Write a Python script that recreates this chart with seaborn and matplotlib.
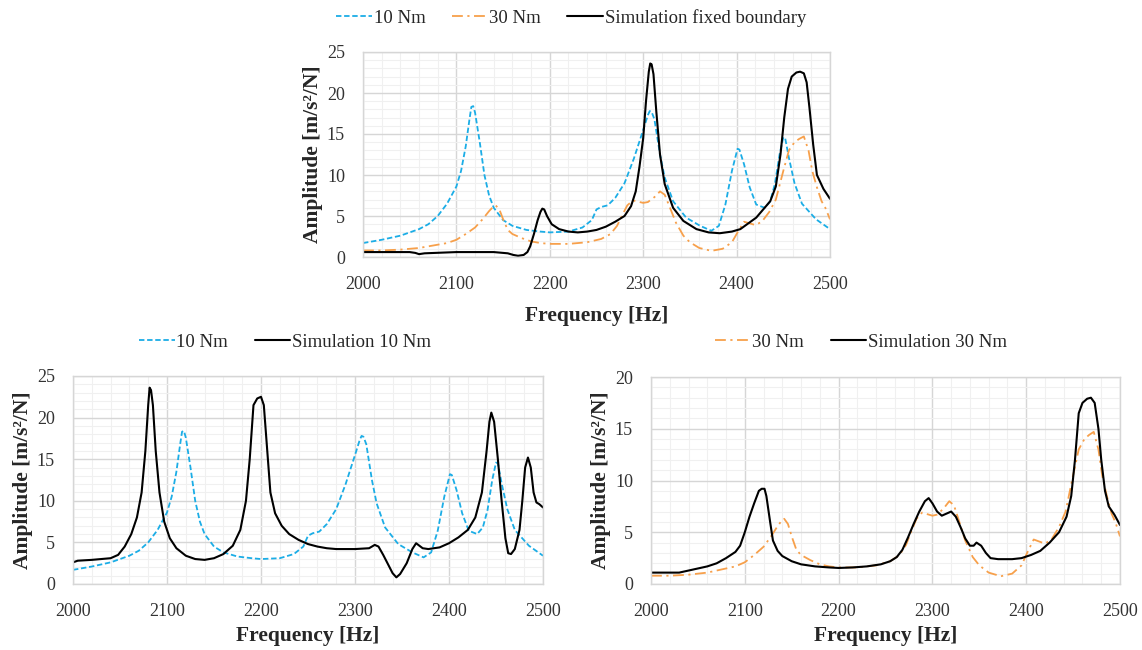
import matplotlib
matplotlib.use("Agg")
import matplotlib.pyplot as plt
from matplotlib.ticker import MultipleLocator
import seaborn as sns
import pandas as pd

# ---------------- data ----------------
freq_10nm = [2000, 2020, 2040, 2060, 2070, 2080, 2090, 2100, 2105, 2110, 2114, 2116, 2118,
             2120, 2125, 2130, 2135, 2140, 2150, 2160, 2175, 2190, 2200, 2220, 2235,
             2245, 2250, 2255, 2262, 2270, 2280, 2290, 2300, 2305, 2307, 2309, 2312, 2318,
             2323, 2332, 2346, 2361, 2373, 2381, 2388, 2395, 2401, 2403, 2408, 2414, 2421,
             2430, 2436, 2441, 2446, 2450, 2452, 2456, 2462, 2470, 2485, 2500]
amp_10nm = [1.7, 2.1, 2.6, 3.4, 4.0, 5.0, 6.5, 8.6, 10.5, 13.5, 16.8, 18.3, 18.4,
            17.6, 14.0, 10.0, 7.5, 6.0, 4.5, 3.8, 3.3, 3.1, 3.0, 3.1, 3.6,
            4.5, 5.8, 6.1, 6.3, 7.2, 9.0, 12.0, 15.5, 17.3, 17.8, 17.7, 16.8, 12.5,
            9.7, 6.8, 4.8, 3.8, 3.2, 3.8, 6.4, 10.5, 13.2, 13.1, 11.3, 8.5, 6.4,
            6.0, 6.8, 8.9, 12.5, 14.6, 14.5, 12.1, 9.0, 6.5, 4.6, 3.4]

freq_30nm = [2000, 2020, 2040, 2060, 2080, 2090, 2100, 2110, 2120, 2128, 2135, 2140, 2142,
             2146, 2150, 2155, 2160, 2170, 2180, 2190, 2200, 2220, 2240, 2255, 2265,
             2272, 2278, 2283, 2289, 2300, 2305, 2312, 2318, 2323, 2328, 2335, 2343,
             2350, 2360, 2373, 2385, 2395, 2402, 2408, 2414, 2420, 2427, 2435, 2442,
             2450, 2456, 2462, 2467, 2472, 2477, 2481, 2486, 2491, 2495, 2500]
amp_30nm = [0.8, 0.8, 0.9, 1.1, 1.5, 1.7, 2.1, 2.8, 3.6, 4.6, 5.6, 6.2, 6.3,
            5.8, 4.6, 3.3, 2.8, 2.3, 1.9, 1.7, 1.6, 1.6, 1.8, 2.2, 2.8,
            3.8, 5.2, 6.3, 6.9, 6.6, 6.7, 7.3, 8.0, 7.6, 6.2, 4.2, 2.6,
            1.8, 1.1, 0.75, 1.0, 1.8, 3.2, 4.3, 4.1, 3.9, 4.3, 5.5, 7.0,
            10.5, 13.0, 14.0, 14.4, 14.7, 13.0, 10.5, 8.5, 6.8, 6.0, 4.6]

freq_sim_fixed = [2000, 2050, 2056, 2060, 2066, 2100, 2140, 2155, 2161, 2166, 2172,
                  2176, 2179, 2183, 2187, 2190, 2192, 2194, 2197, 2202, 2210, 2220, 2230,
                  2240, 2250, 2260, 2270, 2280, 2287, 2292, 2296, 2300, 2303, 2306,
                  2307.5, 2309, 2311, 2314, 2318, 2323, 2332, 2343, 2357, 2370, 2382, 2395,
                  2404, 2421, 2436, 2442, 2447, 2451, 2455, 2459, 2464, 2468, 2472, 2475,
                  2478, 2482, 2486, 2493, 2500]
amp_sim_fixed = [0.6, 0.6, 0.5, 0.35, 0.45, 0.6, 0.6, 0.45, 0.25, 0.15, 0.25,
                 0.6, 1.3, 2.8, 4.5, 5.5, 5.9, 5.8, 5.0, 4.0, 3.4, 3.1, 3.0,
                 3.1, 3.3, 3.7, 4.3, 5.0, 6.2, 8.0, 11.0, 14.5, 19.0, 22.6,
                 23.6, 23.5, 22.3, 17.8, 12.5, 8.9, 6.0, 4.4, 3.4, 3.0, 2.9, 3.1,
                 3.4, 4.8, 6.8, 8.6, 12.5, 17.0, 20.5, 22.0, 22.5, 22.6, 22.4, 21.3,
                 18.2, 13.7, 10.0, 8.3, 7.1]

freq_sim_10 = [2000, 2005, 2020, 2040, 2048, 2055, 2062, 2068, 2073, 2077, 2080, 2081.5, 2083,
               2085, 2088, 2092, 2097, 2103, 2110, 2120, 2130, 2140, 2150, 2160, 2170,
               2178, 2184, 2188, 2192, 2196, 2200, 2203, 2206, 2210, 2215, 2222, 2230,
               2240, 2250, 2260, 2270, 2280, 2300, 2315, 2321, 2325, 2330, 2335, 2340,
               2344, 2348, 2355, 2361, 2365, 2372, 2378, 2390, 2400, 2410, 2420, 2428,
               2435, 2440, 2443, 2445, 2448, 2452, 2456, 2460, 2463, 2466, 2470, 2475,
               2478, 2481, 2484, 2487, 2490, 2493, 2496, 2500]
amp_sim_10 = [2.6, 2.8, 2.9, 3.1, 3.5, 4.5, 6.0, 8.0, 11.0, 16.0, 21.5, 23.6, 23.3,
              21.5, 16.0, 11.0, 7.5, 5.5, 4.3, 3.4, 3.0, 2.9, 3.1, 3.6, 4.6,
              6.5, 10.0, 15.0, 21.5, 22.3, 22.5, 21.5, 17.0, 11.0, 8.5, 7.0, 6.0,
              5.3, 4.8, 4.5, 4.3, 4.2, 4.2, 4.3, 4.7, 4.5, 3.5, 2.4, 1.3,
              0.8, 1.2, 2.5, 4.2, 4.9, 4.3, 4.2, 4.4, 4.9, 5.6, 6.5, 8.0,
              11.0, 16.0, 19.5, 20.6, 19.5, 15.0, 10.0, 5.5, 3.7, 3.6, 4.2, 6.5,
              10.0, 14.0, 15.2, 14.0, 11.0, 9.8, 9.6, 9.2]

freq_sim_30 = [2000, 2030, 2045, 2060, 2070, 2080, 2090, 2095, 2100, 2105, 2110, 2115,
               2118, 2121, 2123, 2127, 2130, 2135, 2140, 2150, 2160, 2175, 2190, 2200,
               2215, 2230, 2245, 2255, 2262, 2268, 2274, 2280, 2286, 2292, 2296, 2300,
               2305, 2310, 2315, 2320, 2325, 2330, 2335, 2340, 2344, 2347, 2352, 2357,
               2362, 2370, 2385, 2395, 2405, 2415, 2425, 2435, 2443, 2448, 2452, 2456,
               2460, 2465, 2469, 2473, 2477, 2480, 2484, 2488, 2494, 2500]
amp_sim_30 = [1.1, 1.1, 1.4, 1.7, 2.0, 2.5, 3.1, 3.7, 5.0, 6.5, 7.8, 9.0,
              9.2, 9.2, 8.5, 6.0, 4.2, 3.2, 2.7, 2.2, 1.9, 1.7, 1.6, 1.55,
              1.6, 1.7, 1.9, 2.2, 2.6, 3.3, 4.5, 5.8, 7.0, 8.0, 8.3, 7.8,
              7.0, 6.6, 6.8, 7.0, 6.5, 5.5, 4.4, 3.7, 3.7, 4.0, 3.7, 3.0,
              2.5, 2.4, 2.4, 2.5, 2.8, 3.2, 4.0, 5.0, 6.5, 8.5, 12.0, 16.5,
              17.5, 17.9, 18.0, 17.5, 15.0, 12.0, 9.0, 7.5, 6.7, 5.7]

x_ticks = [2000, 2100, 2200, 2300, 2400, 2500]
xlabel = "Frequency [Hz]"
ylabel = "Amplitude [m/s²/N]"

# ---------------- style ----------------
sns.set_theme(style="white")
plt.rcParams["font.family"] = ["Liberation Serif", "DejaVu Serif"]

BLUE = "#1BADE6"
ORANGE = "#F7A04B"
BLACK = "#000000"

W, H = 1142, 650
fig = plt.figure(figsize=(W / 100, H / 100), dpi=100)


def px_axes(x0, y0, x1, y1):
    return fig.add_axes([x0 / W, 1 - y1 / H, (x1 - x0) / W, (y1 - y0) / H])


ax_top = px_axes(363, 52, 830, 257)
ax_bl = px_axes(73, 376, 543, 584)
ax_br = px_axes(651, 377, 1120, 584)


def style_axes(ax, ymax, xlabelpad):
    ax.set_xlim(2000, 2500)
    ax.set_ylim(0, ymax)
    ax.set_xticks(x_ticks)
    ax.set_yticks(list(range(0, ymax + 1, 5)))
    ax.xaxis.set_minor_locator(MultipleLocator(20))
    ax.yaxis.set_minor_locator(MultipleLocator(1))
    ax.grid(which="minor", color="#F0F0F0", lw=0.8)
    ax.grid(which="major", color="#D6D6D6", lw=1.0)
    ax.set_axisbelow(True)
    for s in ax.spines.values():
        s.set_visible(True)
        s.set_color("#D6D6D6")
        s.set_linewidth(1.0)
    ax.tick_params(which="both", length=0)
    ax.tick_params(axis="x", pad=14, labelsize=13, labelcolor="#333333")
    ax.tick_params(axis="y", pad=13, labelsize=13, labelcolor="#333333")
    ax.set_xlabel(xlabel, fontsize=15.5, fontweight="bold", labelpad=xlabelpad)
    ax.set_ylabel(ylabel, fontsize=15.5, fontweight="bold", labelpad=3)


def line(ax, fx, fy, color, ls, lw, label, dashes=None):
    df = pd.DataFrame({"f": fx, "a": fy})
    sns.lineplot(data=df, x="f", y="a", ax=ax, color=color, lw=lw,
                 label=label, sort=False, legend=False, linestyle=ls)
    ln = ax.lines[-1]
    ln.set_solid_joinstyle("round")
    ln.set_dash_joinstyle("round")
    if dashes is not None:
        ln.set_dashes(dashes)
    return ln


# top chart
h1 = line(ax_top, freq_10nm, amp_10nm, BLUE, "--", 1.3, "10 Nm", (3, 1.5))
h2 = line(ax_top, freq_30nm, amp_30nm, ORANGE, "-.", 1.3, "30 Nm", (6, 2.5, 1.2, 2.5))
h3 = line(ax_top, freq_sim_fixed, amp_sim_fixed, BLACK, "-", 1.5, "Simulation fixed boundary")
style_axes(ax_top, 25, 9)

# bottom-left
b1 = line(ax_bl, freq_10nm, amp_10nm, BLUE, "--", 1.3, "10 Nm", (3, 1.5))
b2 = line(ax_bl, freq_sim_10, amp_sim_10, BLACK, "-", 1.5, "Simulation 10 Nm")
style_axes(ax_bl, 25, 4)

# bottom-right
c1 = line(ax_br, freq_30nm, amp_30nm, ORANGE, "-.", 1.3, "30 Nm", (6, 2.5, 1.2, 2.5))
c2 = line(ax_br, freq_sim_30, amp_sim_30, BLACK, "-", 1.5, "Simulation 30 Nm")
style_axes(ax_br, 20, 4)

leg_kw = dict(loc="center", frameon=False, fontsize=13.5, handlelength=1.9,
              handletextpad=0.1, columnspacing=1.4, borderaxespad=0)
fig.legend(handles=[h1, h2, h3], ncol=3, bbox_to_anchor=(571 / W, 1 - 18 / H), **leg_kw)
fig.legend(handles=[b1, b2], ncol=2, bbox_to_anchor=(285 / W, 1 - 342 / H), **leg_kw)
fig.legend(handles=[c1, c2], ncol=2, bbox_to_anchor=(861 / W, 1 - 342 / H), **leg_kw)

fig.savefig("out.png", dpi=100)
